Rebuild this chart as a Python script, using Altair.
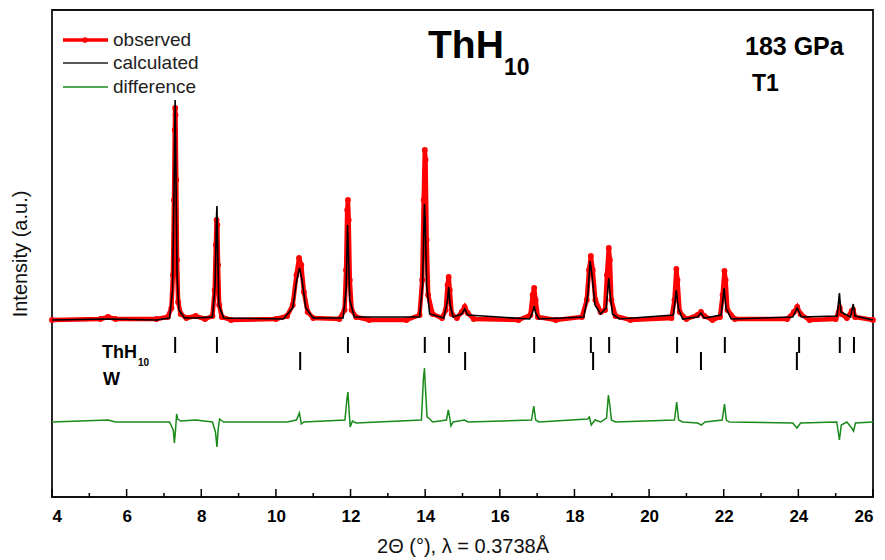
import altair as alt
import pandas as pd

# ---------------- data ----------------
obs_x = [4.0, 5.3, 5.5, 5.7, 6.8, 7.1, 7.2, 7.24, 7.27, 7.29, 7.30, 7.31, 7.33, 7.35, 7.38, 7.45, 7.6, 7.85, 8.1,
         8.3, 8.36, 8.39, 8.41, 8.43, 8.45, 8.48, 8.55, 8.8, 10.0, 10.3, 10.45, 10.55, 10.62, 10.68, 10.75, 10.85,
         11.0, 11.7, 11.84, 11.88, 11.91, 11.93, 11.95, 11.98, 12.03, 12.15, 12.5, 13.5, 13.85, 13.92, 13.96, 13.99,
         14.01, 14.04, 14.08, 14.2, 14.45, 14.55, 14.6, 14.63, 14.66, 14.71, 14.85, 14.98, 15.06, 15.14, 15.3, 16.5,
         16.82, 16.88, 16.92, 16.96, 17.02, 17.5, 18.2, 18.33, 18.39, 18.44, 18.49, 18.56, 18.7, 18.82, 18.87, 18.92,
         18.95, 18.99, 19.1, 19.5, 20.6, 20.68, 20.73, 20.76, 20.82, 21.0, 21.3, 21.39, 21.48, 21.7, 21.9, 21.97,
         22.02, 22.05, 22.1, 22.3, 23.7, 23.88, 23.97, 24.06, 24.3, 25.0, 25.08, 25.11, 25.15, 25.3, 25.43, 25.47,
         25.52, 26.0]
obs_y = [0, 1, 3, 1, 1, 3, 12, 45, 120, 190, 212, 205, 140, 60, 18, 6, 2, 4, 1,
         4, 30, 75, 100, 95, 55, 15, 3, 0, 1, 4, 15, 45, 62, 55, 28, 8,
         2, 1, 10, 50, 110, 120, 100, 40, 10, 3, 0, 0, 5, 40, 120, 170,
         160, 80, 25, 6, 2, 10, 35, 43, 30, 6, 2, 8, 13, 7, 1, 0,
         5, 25, 32, 20, 3, 0, 3, 20, 50, 64, 50, 20, 8, 10, 45, 72,
         60, 20, 4, 0, 2, 20, 51, 40, 8, 1, 5, 8, 4, 0, 3, 25,
         49, 40, 10, 1, 1, 8, 13, 6, 0, 1, 8, 12, 6, 2, 9, 10,
         3, 0]

calc_x = [4.0, 5.5, 6.8, 7.15, 7.23, 7.27, 7.30, 7.32, 7.35, 7.4, 7.55, 7.85, 8.3, 8.37, 8.41, 8.42, 8.44, 8.47,
          8.6, 10.2, 10.45, 10.55, 10.63, 10.7, 10.8, 11.0, 11.8, 11.88, 11.92, 11.94, 11.98, 12.1, 13.85, 13.93,
          13.98, 14.0, 14.04, 14.12, 14.5, 14.6, 14.63, 14.67, 14.75, 14.98, 15.06, 15.14, 16.8, 16.88, 16.92,
          16.96, 17.05, 18.25, 18.36, 18.42, 18.47, 18.55, 18.7, 18.85, 18.92, 18.96, 19.02, 19.2, 20.65, 20.73,
          20.78, 20.9, 21.3, 21.39, 21.48, 21.93, 22.01, 22.06, 22.2, 23.85, 23.97, 24.08, 25.04, 25.1, 25.14,
          25.4, 25.47, 25.52, 26.0]
calc_y = [0, 1, 0, 2, 30, 130, 220, 150, 45, 10, 2, 2, 3, 35, 105, 114, 70, 15,
          2, 1, 12, 38, 52, 40, 12, 2, 2, 30, 95, 70, 20, 3, 3, 35,
          116, 100, 35, 6, 2, 20, 33, 15, 3, 6, 11, 5, 1, 8, 14,
          7, 1, 3, 25, 59, 45, 15, 6, 12, 42, 25, 6, 1, 5, 30,
          12, 1, 3, 7, 2, 5, 32, 12, 1, 3, 12, 3, 4, 27, 8,
          3, 16, 4, 0]

diff_x = [4.0, 5.5, 5.7, 7.15, 7.25, 7.28, 7.31, 7.34, 7.37, 7.45, 7.85, 8.3, 8.38, 8.42, 8.45, 8.49, 8.6, 10.3,
          10.55, 10.63, 10.68, 10.75, 11.85, 11.9, 11.93, 11.96, 11.99, 12.05, 12.15, 13.9, 13.95, 13.98, 14.01,
          14.05, 14.1, 14.2, 14.57, 14.62, 14.66, 14.69, 14.75, 15.05, 15.15, 16.85, 16.91, 16.96, 17.05, 18.35,
          18.4, 18.45, 18.55, 18.7, 18.86, 18.91, 18.95, 18.99, 19.1, 20.68, 20.74, 20.79, 20.9, 21.3, 21.4, 21.5,
          21.96, 22.02, 22.07, 22.15, 23.85, 23.96, 24.06, 25.03, 25.1, 25.15, 25.3, 25.43, 25.48, 25.53, 26.0]
diff_y = [-102, -100, -102, -102, -110, -123, -110, -94, -99, -101, -100, -102, -112, -127, -110, -99, -102, -102,
          -100, -93, -104, -102, -100, -80, -72, -90, -107, -101, -103, -100, -60, -48, -70,
          -97, -98, -102, -100, -90, -98, -106, -102, -100, -102, -100, -86, -100, -102, -99,
          -97, -105, -100, -102, -98, -75, -86, -100, -102, -100, -82, -100, -102, -103, -105, -102,
          -100, -84, -100, -102, -103, -108, -103, -102, -120, -105, -102, -108, -111, -103, -102]

thh_ticks = [7.30, 8.42, 11.93, 13.99, 14.64, 16.92, 18.44, 18.93, 20.75, 22.03, 24.02, 25.11, 25.49]
w_ticks = [10.65, 15.07, 18.50, 21.39, 23.96]
thh_row = (-17, -33)
w_row = (-32, -50)

major_ticks = list(range(4, 27, 2))
minor_ticks = list(range(5, 26, 2))

W, H = 821, 487
FONT = "Liberation Sans"

xscale = alt.Scale(domain=[4, 26], nice=False, zero=False)
yscale = alt.Scale(domain=[-177, 310], nice=False, zero=False)

obs = pd.DataFrame({"x": obs_x, "y": obs_y})
calc = pd.DataFrame({"x": calc_x, "y": calc_y})
diff = pd.DataFrame({"x": diff_x, "y": diff_y})

xaxis = alt.Axis(values=major_ticks, grid=False, domain=False, ticks=False, labelFont=FONT,
                 labelFontWeight="bold", labelFontSize=17, labelColor="black", labelPadding=11,
                 title="2Θ (°), λ = 0.3738Å", titleFont=FONT, titleFontSize=20,
                 titleFontWeight="normal", titleColor="#111", titlePadding=12)
yaxis = alt.Axis(labels=False, ticks=False, domain=False, grid=False,
                 title="Intensity (a.u.)", titleFont=FONT, titleFontSize=20,
                 titleFontWeight="normal", titleColor="#111", titleX=-26, titleY=H / 2,
                 titleAngle=-90, titleAlign="center", titleBaseline="alphabetic")

obs_layer = alt.Chart(obs).mark_line(
    color="#ff0000", strokeWidth=4.5,
    point=alt.OverlayMarkDef(color="#ff0000", filled=True, size=34, opacity=1),
).encode(x=alt.X("x:Q", scale=xscale, axis=xaxis), y=alt.Y("y:Q", scale=yscale, axis=yaxis))

calc_layer = alt.Chart(calc).mark_line(color="black", strokeWidth=1.6).encode(
    x=alt.X("x:Q", scale=xscale), y=alt.Y("y:Q", scale=yscale))

diff_layer = alt.Chart(diff).mark_line(color="#1a8a1a", strokeWidth=1.5).encode(
    x=alt.X("x:Q", scale=xscale), y=alt.Y("y:Q", scale=yscale))

thh_df = pd.DataFrame({"x": thh_ticks, "y1": thh_row[0], "y2": thh_row[1]})
w_df = pd.DataFrame({"x": w_ticks, "y1": w_row[0], "y2": w_row[1]})
thh_layer = alt.Chart(thh_df).mark_rule(color="black", strokeWidth=2).encode(
    x=alt.X("x:Q", scale=xscale), y=alt.Y("y1:Q", scale=yscale), y2="y2:Q")
w_layer = alt.Chart(w_df).mark_rule(color="black", strokeWidth=2).encode(
    x=alt.X("x:Q", scale=xscale), y=alt.Y("y1:Q", scale=yscale), y2="y2:Q")

# inward axis ticks
maj_layer = alt.Chart(pd.DataFrame({"x": major_ticks})).mark_rule(color="black", strokeWidth=1.5).encode(
    x=alt.X("x:Q", scale=xscale), y=alt.value(H - 8), y2=alt.value(H))
min_layer = alt.Chart(pd.DataFrame({"x": minor_ticks})).mark_rule(color="black", strokeWidth=1.5).encode(
    x=alt.X("x:Q", scale=xscale), y=alt.value(H - 4), y2=alt.value(H))

# legend (drawn manually)
leg_names = ["observed", "calculated", "difference"]
leg_colors = ["#ff0000", "#222222", "#1a8a1a"]
leg_widths = [3.5, 1.6, 1.5]
leg_y = [30, 53, 77]
legend_layers = []
for name, col, sw, yy in zip(leg_names, leg_colors, leg_widths, leg_y):
    d = pd.DataFrame({"t": [name]})
    legend_layers.append(alt.Chart(d).mark_rule(color=col, strokeWidth=sw).encode(
        x=alt.value(11), x2=alt.value(56), y=alt.value(yy)))
    legend_layers.append(alt.Chart(d).mark_text(align="left", baseline="middle", font=FONT,
                                                fontSize=19, color="#222").encode(
        x=alt.value(61), y=alt.value(yy), text="t:N"))
legend_layers.append(alt.Chart(pd.DataFrame({"t": ["observed"]})).mark_point(
    filled=True, color="#ff0000", size=32, opacity=1).encode(x=alt.value(33), y=alt.value(30)))


def label(txt, x, y, size, weight="bold"):
    return alt.Chart(pd.DataFrame({"t": [txt]})).mark_text(
        align="left", baseline="alphabetic", font=FONT, fontSize=size, fontWeight=weight,
        color="black").encode(x=alt.value(x), y=alt.value(y), text="t:N")


annots = [
    label("ThH", 376, 48, 39),
    label("10", 452, 65, 23),
    label("183 GPa", 693, 45, 25),
    label("T1", 700, 81, 23),
    label("ThH", 50, 348, 18),
    label("10", 86, 356, 10),
    label("W", 51, 375, 18),
]

chart = alt.layer(
    obs_layer, calc_layer, diff_layer, thh_layer, w_layer, maj_layer, min_layer,
    *legend_layers, *annots
).properties(
    width=W, height=H,
    background="white",
    autosize=alt.AutoSizeParams(type="none"),
    padding={"left": 44, "top": 2, "right": 4, "bottom": 62},
).configure_view(stroke="#111", strokeWidth=1.8)

chart.save("out.html", embed_options={"renderer": "svg", "actions": False})
